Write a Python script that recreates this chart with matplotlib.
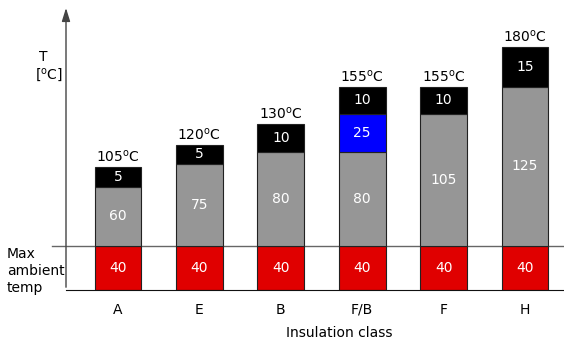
import matplotlib.pyplot as plt

classes = ['A', 'E', 'B', 'F/B', 'F', 'H']
temps = ['105', '120', '130', '155', '155', '180']

# values written on the segments
red_val = [40, 40, 40, 40, 40, 40]
gray_val = [60, 75, 80, 80, 105, 125]
blue_val = [0, 0, 0, 25, 0, 0]
black_val = [5, 5, 10, 10, 10, 15]

# drawn heights of the segments (the chart is not to scale)
red_h = [44, 44, 44, 44, 44, 44]
gray_h = [59, 82, 94, 94, 132, 159]
blue_h = [0, 0, 0, 38, 0, 0]
black_h = [20, 19, 28, 27, 27, 40]

W, H = 564, 347
fig = plt.figure(figsize=(W / 100, H / 100), dpi=100)
ax = fig.add_axes([66 / W, 57 / H, 498 / W, 282 / H])

x = range(len(classes))
bw = 0.577
red_c, gray_c, blue_c = '#e00000', '#969696', '#0000ff'

bottom = [0] * len(classes)
for vals, hs, col in [(red_val, red_h, red_c), (gray_val, gray_h, gray_c),
                      (blue_val, blue_h, blue_c), (black_val, black_h, 'black')]:
    for i in x:
        if hs[i] == 0:
            continue
        ax.bar(i, hs[i], bw, bottom=bottom[i], color=col, edgecolor='#222222', linewidth=0.8)
        ax.text(i, bottom[i] + hs[i] / 2, str(vals[i]), ha='center', va='center',
                color='white', fontsize=10)
        bottom[i] += hs[i]

for i in x:
    ax.text(i, bottom[i] + 2, temps[i] + r'$^\mathregular{o}$C', ha='center', va='bottom',
            fontsize=10)

ax.set_xlim(-0.639, 5.479)
ax.set_ylim(0, 282)
ax.set_xticks(list(x))
ax.set_xticklabels(classes, fontsize=10)
ax.tick_params(axis='x', length=0, pad=9)
ax.set_yticks([])
for s in ['top', 'right']:
    ax.spines[s].set_visible(False)
ax.spines['left'].set_visible(False)
ax.spines['bottom'].set_color('#111111')

# max ambient line
ax.plot([-14 / 498, 1], [44 / 282, 44 / 282], transform=ax.transAxes, color='#666666',
        lw=1, clip_on=False, zorder=0.5)

# y axis with arrow
ax.annotate('', xy=(0, 1.01), xytext=(0, 0), xycoords='axes fraction',
            arrowprops=dict(arrowstyle='-|>,head_length=0.8,head_width=0.25',
                            color='#444444', lw=1), annotation_clip=False)

fig.text(43 / W, 1 - 57 / H, 'T', ha='center', va='center', fontsize=10)
fig.text(49 / W, 1 - 75 / H, r'[$^\mathregular{o}$C]', ha='center', va='center', fontsize=10)
fig.text(7 / W, 1 - 271 / H, 'Max\nambient\ntemp', ha='left', va='center', fontsize=10,
         linespacing=1.3)
fig.text(339 / W, 1 - 333 / H, 'Insulation class', ha='center', va='center', fontsize=10)

fig.savefig('out.png', dpi=100)
